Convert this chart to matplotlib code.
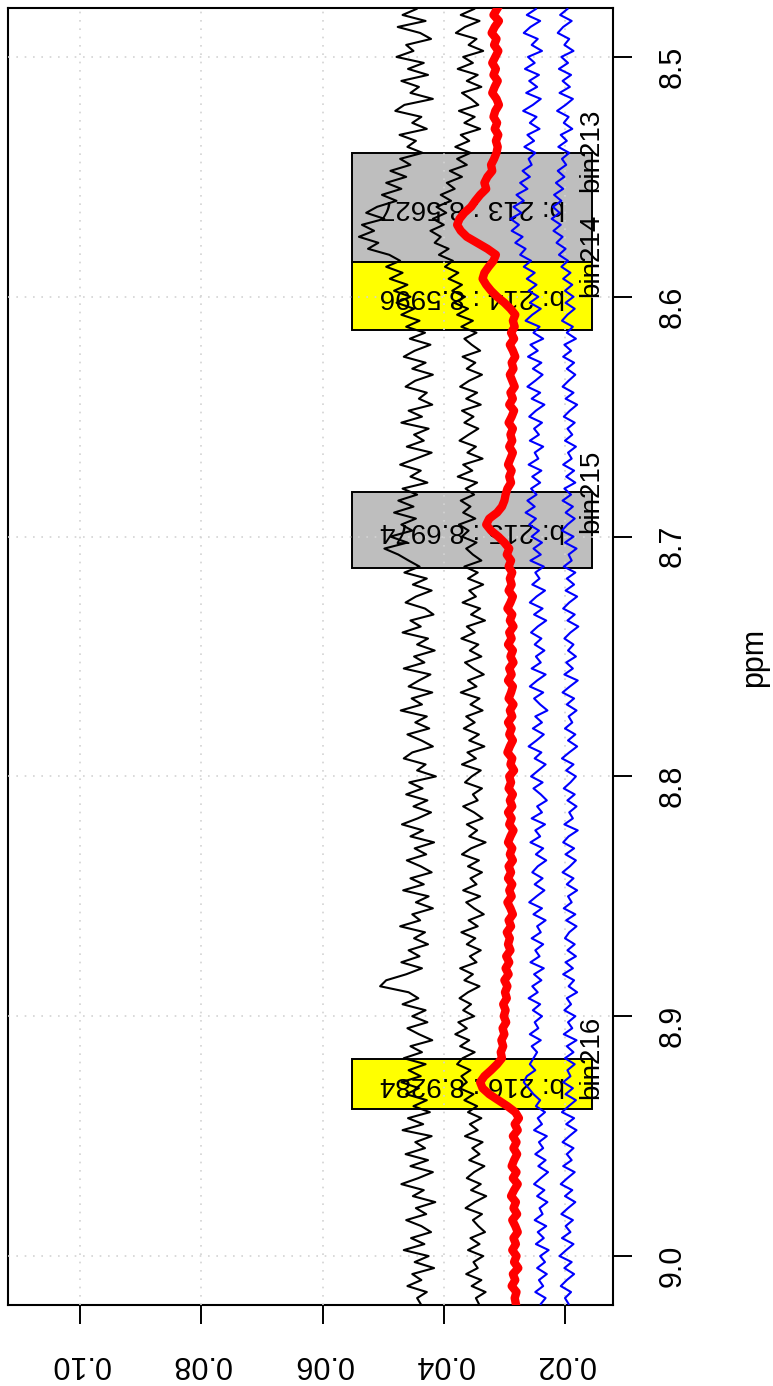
import matplotlib.pyplot as plt
import numpy as np
from matplotlib.patches import Rectangle

plt.rcParams['font.family'] = ['Liberation Sans', 'DejaVu Sans']

# chemical shift grid (ppm), one sample every 0.0025 ppm
ppm = np.round(8.48 + 0.0025 * np.arange(217), 4)

# five spectra (12 samples per row = 0.03 ppm)
black_1 = [
    0.0445, 0.0468, 0.0430, 0.0476, 0.0439, 0.0421, 0.0462, 0.0450, 0.0478, 0.0433, 0.0459, 0.0426,
    0.0470, 0.0441, 0.0455, 0.0418, 0.0465, 0.0480, 0.0437, 0.0452, 0.0428, 0.0473, 0.0446, 0.0460,
    0.0435, 0.0472, 0.0455, 0.0488, 0.0462, 0.0495, 0.0470, 0.0502, 0.0478, 0.0510, 0.0528, 0.0498,
    0.0535, 0.0515, 0.0540, 0.0508, 0.0525, 0.0490, 0.0472, 0.0495, 0.0468, 0.0489, 0.0460, 0.0482,
    0.0455, 0.0478, 0.0449, 0.0470, 0.0440, 0.0462, 0.0431, 0.0456, 0.0422, 0.0448, 0.0466, 0.0430,
    0.0452, 0.0418, 0.0447, 0.0463, 0.0428, 0.0441, 0.0419, 0.0458, 0.0436, 0.0470, 0.0425, 0.0449,
    0.0433, 0.0461, 0.0420, 0.0446, 0.0472, 0.0438, 0.0455, 0.0427, 0.0468, 0.0444, 0.0475, 0.0450,
    0.0482, 0.0446, 0.0470, 0.0452, 0.0488, 0.0460, 0.0498, 0.0475, 0.0458, 0.0440, 0.0465, 0.0428,
    0.0451, 0.0420, 0.0446, 0.0463, 0.0431, 0.0417, 0.0455, 0.0438, 0.0468, 0.0426, 0.0444, 0.0415,
    0.0449, 0.0432, 0.0466, 0.0422, 0.0441, 0.0458, 0.0419, 0.0453, 0.0436, 0.0471, 0.0428, 0.0447,
    0.0424, 0.0460, 0.0437, 0.0418, 0.0452, 0.0466, 0.0430, 0.0444, 0.0413, 0.0457, 0.0435, 0.0462,
    0.0427, 0.0450, 0.0421, 0.0443, 0.0469, 0.0434, 0.0455, 0.0416, 0.0448, 0.0429, 0.0461, 0.0438,
    0.0420, 0.0455, 0.0433, 0.0467, 0.0425, 0.0446, 0.0418, 0.0452, 0.0439, 0.0472, 0.0431, 0.0449,
    0.0426, 0.0458, 0.0440, 0.0470, 0.0436, 0.0462, 0.0495, 0.0505, 0.0458, 0.0442, 0.0468, 0.0430,
    0.0452, 0.0427, 0.0460, 0.0441, 0.0419, 0.0455, 0.0436, 0.0466, 0.0430, 0.0458, 0.0438, 0.0470,
    0.0441, 0.0462, 0.0428, 0.0450, 0.0423, 0.0459, 0.0434, 0.0468, 0.0420, 0.0447, 0.0431, 0.0463,
    0.0426, 0.0455, 0.0418, 0.0442, 0.0470, 0.0433, 0.0451, 0.0414, 0.0446, 0.0429, 0.0462, 0.0437,
    0.0421, 0.0454, 0.0432, 0.0466, 0.0425, 0.0448, 0.0416, 0.0452, 0.0437, 0.0460, 0.0428, 0.0444,
    0.0438,
]
black_2 = [
    0.0350, 0.0372, 0.0341, 0.0365, 0.0380, 0.0346, 0.0359, 0.0335, 0.0368, 0.0352, 0.0377, 0.0344,
    0.0362, 0.0338, 0.0370, 0.0355, 0.0343, 0.0375, 0.0349, 0.0366, 0.0340, 0.0372, 0.0358, 0.0381,
    0.0356, 0.0378, 0.0362, 0.0390, 0.0370, 0.0395, 0.0382, 0.0405, 0.0388, 0.0412, 0.0396, 0.0418,
    0.0400, 0.0422, 0.0405, 0.0415, 0.0392, 0.0408, 0.0385, 0.0398, 0.0376, 0.0392, 0.0370, 0.0386,
    0.0365, 0.0383, 0.0360, 0.0378, 0.0352, 0.0371, 0.0346, 0.0366, 0.0354, 0.0340, 0.0369, 0.0348,
    0.0362, 0.0337, 0.0358, 0.0373, 0.0345, 0.0363, 0.0339, 0.0370, 0.0351, 0.0366, 0.0343, 0.0359,
    0.0374, 0.0347, 0.0361, 0.0336, 0.0368, 0.0353, 0.0377, 0.0345, 0.0364, 0.0350, 0.0372, 0.0356,
    0.0368, 0.0348, 0.0375, 0.0359, 0.0370, 0.0346, 0.0363, 0.0352, 0.0338, 0.0366, 0.0344, 0.0360,
    0.0335, 0.0358, 0.0347, 0.0369, 0.0340, 0.0355, 0.0332, 0.0362, 0.0349, 0.0371, 0.0343, 0.0357,
    0.0338, 0.0365, 0.0351, 0.0334, 0.0360, 0.0346, 0.0372, 0.0341, 0.0356, 0.0336, 0.0363, 0.0349,
    0.0367, 0.0342, 0.0358, 0.0333, 0.0361, 0.0347, 0.0370, 0.0339, 0.0354, 0.0365, 0.0337, 0.0352,
    0.0344, 0.0368, 0.0350, 0.0336, 0.0362, 0.0345, 0.0358, 0.0331, 0.0355, 0.0370, 0.0342, 0.0360,
    0.0337, 0.0356, 0.0346, 0.0368, 0.0340, 0.0363, 0.0350, 0.0334, 0.0359, 0.0344, 0.0371, 0.0348,
    0.0362, 0.0339, 0.0357, 0.0346, 0.0373, 0.0352, 0.0366, 0.0341, 0.0360, 0.0374, 0.0355, 0.0368,
    0.0350, 0.0376, 0.0362, 0.0381, 0.0358, 0.0373, 0.0349, 0.0369, 0.0378, 0.0356, 0.0371, 0.0362,
    0.0374, 0.0351, 0.0366, 0.0345, 0.0360, 0.0338, 0.0357, 0.0344, 0.0365, 0.0336, 0.0353, 0.0341,
    0.0358, 0.0333, 0.0350, 0.0362, 0.0339, 0.0355, 0.0330, 0.0349, 0.0364, 0.0337, 0.0352, 0.0343,
    0.0332, 0.0356, 0.0341, 0.0360, 0.0335, 0.0351, 0.0344, 0.0363, 0.0338, 0.0354, 0.0331, 0.0347,
    0.0342,
]
red_mean = [
    0.0312, 0.0318, 0.0309, 0.0316, 0.0321, 0.0313, 0.0317, 0.0310, 0.0315, 0.0320, 0.0314, 0.0318,
    0.0311, 0.0316, 0.0320, 0.0313, 0.0309, 0.0315, 0.0318, 0.0312, 0.0316, 0.0310, 0.0314, 0.0311,
    0.0313, 0.0317, 0.0322, 0.0320, 0.0328, 0.0333, 0.0330, 0.0340, 0.0348, 0.0355, 0.0366, 0.0374,
    0.0378, 0.0372, 0.0362, 0.0345, 0.0328, 0.0314, 0.0318, 0.0326, 0.0333, 0.0336, 0.0330, 0.0322,
    0.0312, 0.0300, 0.0290, 0.0282, 0.0286, 0.0283, 0.0289, 0.0284, 0.0291, 0.0286, 0.0282, 0.0288,
    0.0285, 0.0291, 0.0287, 0.0283, 0.0290, 0.0286, 0.0292, 0.0284, 0.0288, 0.0293, 0.0286, 0.0290,
    0.0287, 0.0292, 0.0286, 0.0290, 0.0294, 0.0288, 0.0292, 0.0289, 0.0295, 0.0298, 0.0300, 0.0304,
    0.0312, 0.0325, 0.0330, 0.0322, 0.0310, 0.0300, 0.0292, 0.0296, 0.0289, 0.0293, 0.0287, 0.0291,
    0.0288, 0.0293, 0.0286, 0.0290, 0.0295, 0.0287, 0.0291, 0.0285, 0.0292, 0.0288, 0.0294, 0.0286,
    0.0290, 0.0285, 0.0292, 0.0288, 0.0294, 0.0286, 0.0289, 0.0293, 0.0285, 0.0291, 0.0287, 0.0294,
    0.0288, 0.0292, 0.0286, 0.0291, 0.0295, 0.0287, 0.0290, 0.0284, 0.0292, 0.0289, 0.0293, 0.0286,
    0.0291, 0.0287, 0.0294, 0.0288, 0.0292, 0.0285, 0.0290, 0.0294, 0.0287, 0.0291, 0.0286, 0.0293,
    0.0289, 0.0294, 0.0287, 0.0292, 0.0288, 0.0295, 0.0290, 0.0286, 0.0293, 0.0289, 0.0296, 0.0291,
    0.0294, 0.0290, 0.0297, 0.0292, 0.0298, 0.0293, 0.0300, 0.0295, 0.0299, 0.0296, 0.0302, 0.0298,
    0.0301, 0.0297, 0.0303, 0.0300, 0.0305, 0.0302, 0.0306, 0.0304, 0.0312, 0.0322, 0.0333, 0.0340,
    0.0336, 0.0325, 0.0310, 0.0295, 0.0282, 0.0276, 0.0283, 0.0278, 0.0286, 0.0280, 0.0285, 0.0279,
    0.0284, 0.0288, 0.0280, 0.0286, 0.0278, 0.0284, 0.0289, 0.0281, 0.0285, 0.0279, 0.0287, 0.0282,
    0.0278, 0.0285, 0.0281, 0.0287, 0.0280, 0.0284, 0.0277, 0.0286, 0.0282, 0.0288, 0.0280, 0.0283,
    0.0281,
]
blue_1 = [
    0.0248, 0.0263, 0.0241, 0.0257, 0.0268, 0.0245, 0.0255, 0.0238, 0.0261, 0.0250, 0.0266, 0.0243,
    0.0259, 0.0246, 0.0264, 0.0240, 0.0253, 0.0269, 0.0247, 0.0258, 0.0242, 0.0262, 0.0251, 0.0267,
    0.0249, 0.0260, 0.0255, 0.0270, 0.0258, 0.0274, 0.0262, 0.0280, 0.0268, 0.0285, 0.0272, 0.0290,
    0.0276, 0.0288, 0.0270, 0.0282, 0.0265, 0.0274, 0.0256, 0.0268, 0.0250, 0.0263, 0.0247, 0.0260,
    0.0244, 0.0258, 0.0240, 0.0254, 0.0265, 0.0242, 0.0252, 0.0236, 0.0257, 0.0245, 0.0261, 0.0239,
    0.0253, 0.0237, 0.0249, 0.0262, 0.0241, 0.0255, 0.0234, 0.0248, 0.0259, 0.0238, 0.0251, 0.0243,
    0.0258, 0.0236, 0.0250, 0.0244, 0.0260, 0.0239, 0.0254, 0.0241, 0.0256, 0.0247, 0.0262, 0.0250,
    0.0265, 0.0248, 0.0259, 0.0243, 0.0255, 0.0238, 0.0252, 0.0240, 0.0257, 0.0235, 0.0249, 0.0242,
    0.0254, 0.0233, 0.0247, 0.0258, 0.0237, 0.0251, 0.0231, 0.0245, 0.0256, 0.0239, 0.0250, 0.0234,
    0.0248, 0.0240, 0.0255, 0.0232, 0.0246, 0.0258, 0.0236, 0.0251, 0.0241, 0.0229, 0.0249, 0.0238,
    0.0253, 0.0235, 0.0247, 0.0260, 0.0239, 0.0250, 0.0232, 0.0244, 0.0256, 0.0237, 0.0252, 0.0240,
    0.0230, 0.0246, 0.0238, 0.0255, 0.0233, 0.0249, 0.0241, 0.0257, 0.0236, 0.0248, 0.0231, 0.0245,
    0.0254, 0.0237, 0.0250, 0.0234, 0.0247, 0.0259, 0.0238, 0.0252, 0.0232, 0.0246, 0.0240, 0.0255,
    0.0236, 0.0249, 0.0242, 0.0257, 0.0235, 0.0251, 0.0239, 0.0254, 0.0245, 0.0260, 0.0241, 0.0253,
    0.0238, 0.0250, 0.0244, 0.0258, 0.0240, 0.0255, 0.0246, 0.0252, 0.0258, 0.0249, 0.0263, 0.0268,
    0.0260, 0.0252, 0.0241, 0.0248, 0.0233, 0.0245, 0.0238, 0.0251, 0.0230, 0.0243, 0.0236, 0.0249,
    0.0232, 0.0244, 0.0228, 0.0240, 0.0251, 0.0234, 0.0246, 0.0229, 0.0242, 0.0237, 0.0250, 0.0231,
    0.0245, 0.0235, 0.0248, 0.0227, 0.0241, 0.0233, 0.0246, 0.0230, 0.0243, 0.0236, 0.0249, 0.0232,
    0.0240,
]
blue_2 = [
    0.0196, 0.0208, 0.0189, 0.0203, 0.0212, 0.0193, 0.0201, 0.0186, 0.0206, 0.0195, 0.0210, 0.0190,
    0.0204, 0.0192, 0.0209, 0.0187, 0.0199, 0.0213, 0.0194, 0.0202, 0.0188, 0.0207, 0.0197, 0.0211,
    0.0193, 0.0205, 0.0198, 0.0212, 0.0201, 0.0215, 0.0203, 0.0218, 0.0206, 0.0220, 0.0209, 0.0222,
    0.0207, 0.0219, 0.0204, 0.0214, 0.0199, 0.0210, 0.0195, 0.0206, 0.0191, 0.0203, 0.0188, 0.0200,
    0.0186, 0.0199, 0.0184, 0.0196, 0.0205, 0.0187, 0.0197, 0.0182, 0.0201, 0.0190, 0.0203, 0.0185,
    0.0197, 0.0183, 0.0194, 0.0204, 0.0186, 0.0199, 0.0180, 0.0192, 0.0202, 0.0184, 0.0196, 0.0188,
    0.0200, 0.0182, 0.0195, 0.0189, 0.0203, 0.0185, 0.0198, 0.0183, 0.0201, 0.0190, 0.0204, 0.0187,
    0.0199, 0.0184, 0.0196, 0.0205, 0.0186, 0.0200, 0.0181, 0.0194, 0.0189, 0.0202, 0.0183, 0.0197,
    0.0185, 0.0199, 0.0180, 0.0193, 0.0203, 0.0184, 0.0196, 0.0178, 0.0191, 0.0201, 0.0186, 0.0195,
    0.0182, 0.0198, 0.0187, 0.0201, 0.0179, 0.0192, 0.0204, 0.0185, 0.0197, 0.0181, 0.0194, 0.0188,
    0.0200, 0.0183, 0.0195, 0.0180, 0.0193, 0.0205, 0.0186, 0.0198, 0.0182, 0.0191, 0.0202, 0.0184,
    0.0196, 0.0181, 0.0193, 0.0187, 0.0201, 0.0179, 0.0194, 0.0203, 0.0185, 0.0199, 0.0182, 0.0192,
    0.0204, 0.0186, 0.0197, 0.0180, 0.0195, 0.0189, 0.0202, 0.0183, 0.0198, 0.0181, 0.0193, 0.0200,
    0.0184, 0.0196, 0.0182, 0.0199, 0.0187, 0.0203, 0.0185, 0.0194, 0.0180, 0.0197, 0.0190, 0.0201,
    0.0183, 0.0195, 0.0188, 0.0202, 0.0181, 0.0197, 0.0186, 0.0200, 0.0184, 0.0196, 0.0191, 0.0203,
    0.0187, 0.0199, 0.0182, 0.0194, 0.0205, 0.0185, 0.0198, 0.0181, 0.0193, 0.0204, 0.0186, 0.0197,
    0.0189, 0.0203, 0.0184, 0.0196, 0.0207, 0.0188, 0.0200, 0.0183, 0.0195, 0.0206, 0.0187, 0.0199,
    0.0191, 0.0205, 0.0186, 0.0198, 0.0209, 0.0189, 0.0201, 0.0185, 0.0197, 0.0207, 0.0190, 0.0200,
    0.0194,
]

# bins
bin_ids = [213, 214, 215, 216]
bin_start = [8.5400, 8.5854, 8.6813, 8.9179]
bin_end = [8.5854, 8.6138, 8.7129, 8.9388]
bin_center = [8.5627, 8.5996, 8.6974, 8.9284]
bin_label_at = [8.5563, 8.6000, 8.6983, 8.9346]
bin_colors = ['#bebebe', '#ffff00', '#bebebe', '#ffff00']
box_low, box_high = 0.0155, 0.0551

x_ticks = [0.02, 0.04, 0.06, 0.08, 0.10]
ppm_ticks = [8.5, 8.6, 8.7, 8.8, 8.9, 9.0]

fig = plt.figure(figsize=(7.73, 13.86), dpi=100)
ax = fig.add_axes([8 / 773, 1 - 1305 / 1386, 605 / 773, 1297 / 1386])

ax.set_xlim(0.1119, 0.01208)
ax.set_ylim(9.0204, 8.4796)

# bin boxes and their labels
for b, s, e, c, col, la in zip(bin_ids, bin_start, bin_end, bin_center, bin_colors, bin_label_at):
    ax.add_patch(Rectangle((box_low, s), box_high - box_low, e - s,
                           facecolor=col, edgecolor='black', lw=1.4, zorder=1))
    ax.text((box_low + box_high) / 2, c, f'b: {b} : {c:.4f}', rotation=180,
            ha='center', va='center', fontsize=20, zorder=2.7)
    ax.text(box_low + 0.0002, la, f'bin{b}', rotation=90, rotation_mode='anchor',
            ha='left', va='center', fontsize=20, zorder=2.7)

# spectra
ax.plot(black_1, ppm, color='black', lw=1.5, zorder=3)
ax.plot(black_2, ppm, color='black', lw=1.5, zorder=3)
ax.plot(blue_1, ppm, color='blue', lw=1.5, zorder=3)
ax.plot(blue_2, ppm, color='blue', lw=1.5, zorder=3)
ax.plot(red_mean, ppm, color='red', lw=6, zorder=3.1)

ax.set_axisbelow(False)
ax.grid(True, color='lightgray', linestyle=(0, (1, 4)), lw=1.2)

ax.set_xticks(x_ticks)
ax.set_xticklabels([f'{v:.2f}' for v in x_ticks])
ax.set_yticks(ppm_ticks)
ax.set_yticklabels([f'{v:.1f}' for v in ppm_ticks])
ax.yaxis.tick_right()
ax.tick_params(axis='x', labelrotation=180, length=14, width=1.4, pad=18, labelsize=22)
ax.tick_params(axis='y', labelrotation=90, length=14, width=1.4, pad=18, labelsize=22)
for sp in ax.spines.values():
    sp.set_linewidth(1.5)

fig.text(754 / 773, 1 - 657 / 1386, 'ppm', rotation=90, ha='center', va='center', fontsize=22)

fig.savefig('out.png', dpi=100)
